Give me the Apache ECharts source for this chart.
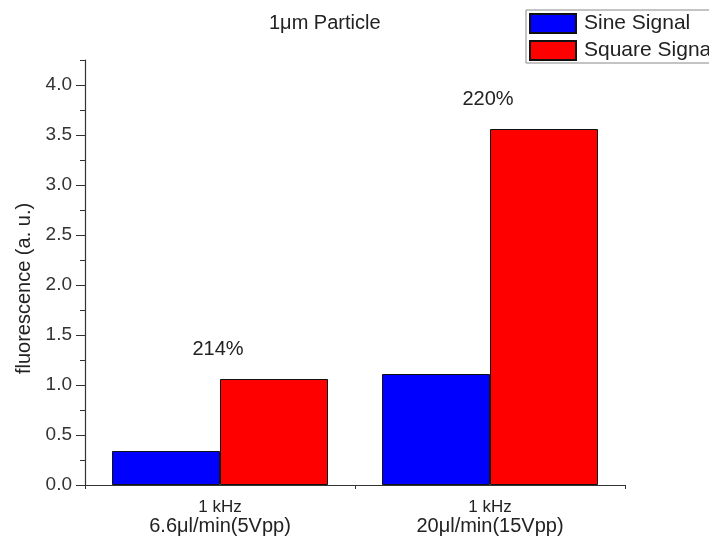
<!DOCTYPE html>
<html>
<head>
<meta charset="utf-8">
<script src="https://cdn.jsdelivr.net/npm/echarts@6/dist/echarts.min.js"></script>
<style>html,body{margin:0;padding:0;background:#fff;}#c{width:709px;height:540px;}</style>
</head>
<body>
<div id="c"></div>
<script>
const freqLabels = ['1 kHz', '1 kHz'];
const flowLabels = ['6.6\u03bcl/min(5Vpp)', '20\u03bcl/min(15Vpp)'];
const sineValues = [0.34, 1.11];
const squareValues = [1.06, 3.56];
const ratioLabels = ['214%', '220%'];
const majorTicks = [0, 0.5, 1.0, 1.5, 2.0, 2.5, 3.0, 3.5, 4.0];
const minorTicks = [0.25, 0.75, 1.25, 1.75, 2.25, 2.75, 3.25, 3.75, 4.25];
const categories = flowLabels.map((f, i) => i);

const chart = echarts.init(document.getElementById('c'));
const font = 'Liberation Sans, Arial, sans-serif';
const axisLine = { lineStyle: { color: '#333', width: 1.2 } };

chart.setOption({
  animation: false,
  textStyle: { fontFamily: font },
  title: {
    text: '1\u03bcm Particle',
    left: 264, top: 8,
    textStyle: { fontSize: 20, fontWeight: 'normal', color: '#222', fontFamily: font }
  },
  legend: {
    orient: 'vertical',
    left: 526, top: 10,
    itemWidth: 46, itemHeight: 19, itemGap: 6,
    icon: 'rect',
    padding: [3, 4, 2, 3],
    borderColor: '#888', borderWidth: 1,
    textStyle: { fontSize: 21, color: '#222', fontFamily: font, padding: [0, 0, 0, 3] },
    data: ['Sine Signal', 'Square Signal']
  },
  grid: { left: 85, right: 84, top: 60, bottom: 55 },
  xAxis: [
    {
      type: 'category', data: categories,
      axisLine: axisLine,
      axisTick: { alignWithLabel: true, length: 7, lineStyle: { color: '#333' } },
      axisLabel: {
        margin: 14, color: '#222', interval: 0,
        formatter: (v, i) => '{a|' + freqLabels[i] + '}\n{b|' + flowLabels[i] + '}',
        rich: {
          a: { fontSize: 17, lineHeight: 17, color: '#222', fontFamily: font },
          b: { fontSize: 20, lineHeight: 20, color: '#222', fontFamily: font }
        }
      }
    },
    {
      type: 'category', data: categories, position: 'bottom',
      axisLine: { show: false },
      axisTick: { show: true, length: 4, lineStyle: { color: '#333' } },
      axisLabel: { show: false }
    }
  ],
  yAxis: [
    {
      type: 'value', min: 0, max: 4.25, interval: 0.5,
      name: 'fluorescence (a. u.)', nameLocation: 'middle', nameGap: 40,
      nameTextStyle: { fontSize: 20, color: '#222', fontFamily: font, padding: [0, 32, 0, 0] },
      axisLine: { show: true, lineStyle: { color: '#333', width: 1.2 } },
      axisTick: { show: true, length: 9, customValues: majorTicks, lineStyle: { color: '#333' } },
      axisLabel: { customValues: majorTicks, fontSize: 19, color: '#333', margin: 13,
        formatter: v => v.toFixed(1) },
      splitLine: { show: false }
    },
    {
      type: 'value', min: 0, max: 4.25, interval: 0.5, position: 'left',
      axisLine: { show: false },
      axisTick: { show: true, length: 5, customValues: minorTicks, lineStyle: { color: '#333' } },
      axisLabel: { show: false },
      splitLine: { show: false }
    }
  ],
  series: [
    {
      name: 'Sine Signal', type: 'bar', data: sineValues,
      barGap: '0%', barCategoryGap: '20%',
      itemStyle: { color: '#0000ff', borderColor: '#111', borderWidth: 1 }
    },
    {
      name: 'Square Signal', type: 'bar', data: squareValues,
      barGap: '0%', barCategoryGap: '20%',
      itemStyle: { color: '#ff0000', borderColor: '#111', borderWidth: 1 },
      label: {
        show: true, position: 'top', offset: [-56, -15],
        formatter: p => ratioLabels[p.dataIndex],
        fontSize: 20, color: '#222', fontFamily: font
      }
    }
  ]
});
</script>
</body>
</html>
